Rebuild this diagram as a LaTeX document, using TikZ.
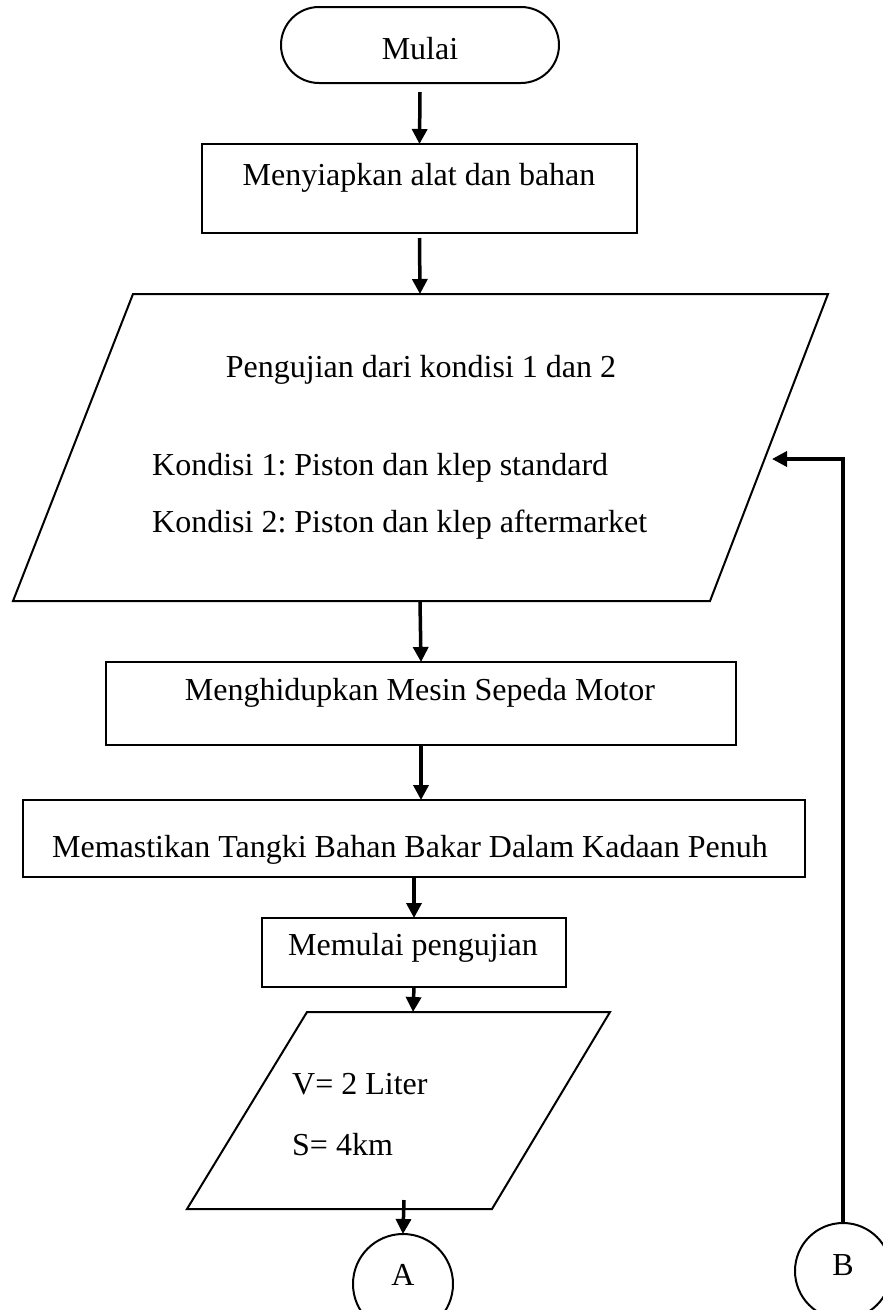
\documentclass[tikz,border=0pt]{standalone}
\usepackage{fontspec}
\setmainfont{Liberation Serif}
\usepackage{tikz}
\usetikzlibrary{shapes.misc,arrows.meta}
\frenchspacing

\tikzset{
  box/.style={draw, line width=2pt, rectangle, inner sep=0pt, outer sep=0pt},
  term/.style={draw, line width=2pt, rounded rectangle, inner sep=0pt, outer sep=0pt},
  inbox/.style={line width=2pt},
  conn/.style={draw, line width=2pt, circle, inner sep=0pt, outer sep=0pt},
  txt/.style={font=\fontsize{32}{38}\selectfont, inner sep=0pt, text height=22pt, text depth=7pt},
  flow/.style={line width=3.5pt, -{Triangle[length=15pt,width=15pt]}}
}

\begin{document}
\begin{tikzpicture}[x=1pt,y=-1pt]
   \useasboundingbox (0,0) rectangle (883,1310);

   % shapes
   \node[term, minimum width=278pt, minimum height=76pt] (start) at (420,45) {};
   \node[box, minimum width=435pt, minimum height=89pt] (prep) at (419.5,188.5) {};
   \draw[inbox] (133,294) -- (828,294) -- (710,601) -- (13,601) -- cycle;
   \coordinate (test-n) at (420,294);
   \coordinate (test-s) at (420,601);
   \node[box, minimum width=630pt, minimum height=83pt] (engine) at (421,703.5) {};
   \node[box, minimum width=782pt, minimum height=77pt] (fuel) at (414,838.5) {};
   \node[box, minimum width=304pt, minimum height=69pt] (begin) at (414,952.5) {};
   \draw[inbox] (307,1012) -- (610,1012) -- (492,1209) -- (187,1209) -- cycle;
   \coordinate (data-n) at (413,1012);
   \coordinate (data-s) at (404,1209);
   \node[conn, minimum size=100pt] (A) at (403,1284) {};
   \node[conn, minimum size=96pt] (B) at (843,1271) {};

   % texts
   \node[txt] (startlbl) at (420,52) {Mulai};
   \node[txt] (preplbl) at (419,178) {Menyiapkan alat dan bahan};
   \node[txt] (testlbl) at (421,370) {Pengujian dari kondisi 1 dan 2};
   \node[txt, anchor=west] (cond1) at (152,468) {Kondisi 1: Piston dan klep standard};
   \node[txt, anchor=west] (cond2) at (152,525) {Kondisi 2: Piston dan klep aftermarket};
   \node[txt] (enginelbl) at (420,693) {Menghidupkan Mesin Sepeda Motor};
   \node[txt] (fuellbl) at (410,850) {Memastikan Tangki Bahan Bakar Dalam Kadaan Penuh};
   \node[txt] (beginlbl) at (413,948) {Memulai pengujian};
   \node[txt, anchor=west] (vol) at (292,1087) {V= 2 Liter};
   \node[txt, anchor=west] (dist) at (292,1148) {S= 4km};
   \node[txt] (Albl) at (403,1278) {A};
   \node[txt] (Blbl) at (843,1268) {B};

   % arrows
   \coordinate (loopin) at (772,459);
   \draw[flow] ([yshift=-9pt]start.south) -- (prep.north);
   \draw[flow] ([yshift=-5pt]prep.south) -- (test-n);
   \draw[flow] (test-s) -- (engine.north);
   \draw[flow] (engine.south) -- (engine.south |- fuel.north);
   \draw[flow] (fuel.south -| begin.north) -- (begin.north);
   \draw[flow] (begin.south) -- (data-n);
   \draw[flow] ([yshift=9pt]data-s) -- (A.north);
   \draw[flow] (B.north) |- (loopin);
\end{tikzpicture}
\end{document}
